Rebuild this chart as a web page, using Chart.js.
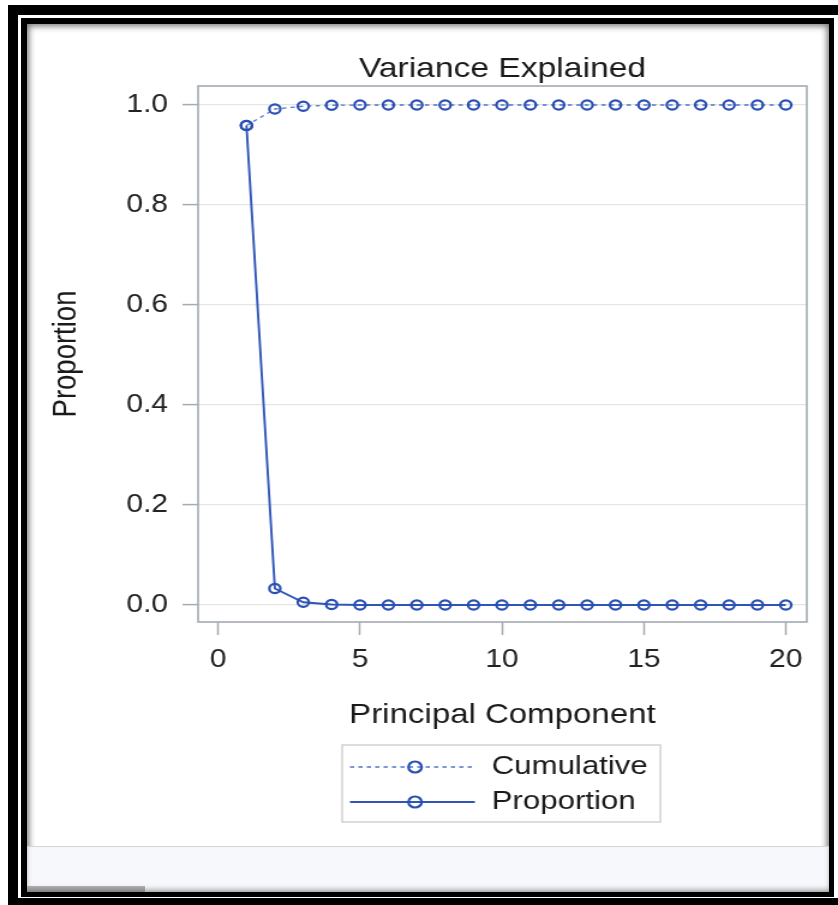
<!DOCTYPE html>
<html>
<head>
<meta charset="utf-8">
<title>Variance Explained</title>
<script src="https://cdn.jsdelivr.net/npm/chart.js@4.4.1/dist/chart.umd.min.js"></script>
<style>
  html, body { margin: 0; padding: 0; background: #fff; }
  body { position: relative; width: 838px; height: 905px; overflow: hidden; }
  .box { position: absolute; }
  #o1 { left: 8px; top: 5px; width: 840px; height: 900px; background: #000; }
  #o2 { left: 18px; top: 15px; width: 820px; height: 883px; background: #fff; }
  #o3 { left: 21px; top: 18px; width: 813px; height: 879px; background: #000; }
  #o4 { left: 27px; top: 24px; width: 802px; height: 868px; background: #fff;
        box-shadow: inset 0 0 6px 2px rgba(0,0,0,0.55); overflow: hidden; }
  #panel { position: absolute; left: 0; top: 822px; width: 802px; height: 46px;
           background: #f7f8fc; border-top: 1px solid #d6d6d6;
           box-shadow: inset 0 -4px 6px -2px rgba(0,0,0,0.5); }
  #thumb { position: absolute; left: 0; bottom: 0; width: 118px; height: 7px;
           background: linear-gradient(#b0b0b0, #7a7a7a); }
  /* chart is drawn narrower and stretched, like the screenshot */
  #wrap { position: absolute; left: 0; top: 0; width: 698px; height: 905px;
          transform: scaleX(1.2006); transform-origin: 0 0; }
</style>
</head>
<body>
<div class="box" id="o1"></div>
<div class="box" id="o2"></div>
<div class="box" id="o3"></div>
<div class="box" id="o4"><div id="panel"><div id="thumb"></div></div></div>
<div id="wrap"><canvas id="chart"></canvas></div>

<script>
// values
const components = [1, 2, 3, 4, 5, 6, 7, 8, 9, 10, 11, 12, 13, 14, 15, 16, 17, 18, 19, 20];
const proportion = [0.959, 0.033, 0.0055, 0.001, 0, 0, 0, 0, 0, 0, 0, 0, 0, 0, 0, 0, 0, 0, 0, 0];
const cumulative = [0.959, 0.992, 0.9975, 0.9995, 1, 1, 1, 1, 1, 1, 1, 1, 1, 1, 1, 1, 1, 1, 1, 1];
const xTicks = [0, 5, 10, 15, 20];
const yTicks = [0, 0.2, 0.4, 0.6, 0.8, 1.0];

const FONT = "'Liberation Sans', Arial, sans-serif";
const BLUE = '#2a4fb3';
const FRAME = '#a4abb3';

// gray box round the plot area
const frame = {
  id: 'frame',
  beforeDatasetsDraw(chart) {
    const { ctx, chartArea: a } = chart;
    ctx.save();
    ctx.strokeStyle = FRAME;
    ctx.lineWidth = 1.6;
    ctx.strokeRect(a.left, a.top, a.right - a.left, a.bottom - a.top);
    ctx.restore();
  }
};

// legend with line + marker samples, like the SAS one
const lineLegend = {
  id: 'lineLegend',
  afterDraw(chart) {
    const { ctx } = chart;
    const left = 285, right = 550, top = 745, bottom = 822;
    const rows = [767, 802];
    ctx.save();
    ctx.strokeStyle = '#d2d2d2';
    ctx.lineWidth = 1.5;
    ctx.strokeRect(left, top, right - left, bottom - top);
    chart.data.datasets.forEach((ds, i) => {
      const y = rows[i];
      ctx.strokeStyle = ds.borderColor;
      ctx.lineWidth = ds.borderWidth;
      ctx.setLineDash(ds.borderDash || []);
      ctx.beginPath();
      ctx.moveTo(291.5, y);
      ctx.lineTo(395.5, y);
      ctx.stroke();
      ctx.setLineDash([]);
      ctx.strokeStyle = ds.pointBorderColor;
      ctx.lineWidth = ds.pointBorderWidth;
      ctx.beginPath();
      ctx.arc(345.7, y, 5.5, 0, Math.PI * 2);
      ctx.stroke();
      ctx.fillStyle = '#1a1a1a';
      ctx.font = '26px ' + FONT;
      ctx.textBaseline = 'middle';
      ctx.textAlign = 'left';
      ctx.fillText(ds.label, 409.5, y);
    });
    ctx.restore();
  }
};

new Chart(document.getElementById('chart'), {
  type: 'line',
  data: {
    datasets: [{
      label: 'Cumulative',
      data: components.map((c, i) => ({ x: c, y: cumulative[i] })),
      borderColor: '#4f74cc',
      borderWidth: 1.3,
      borderDash: [3.5, 3.5],
      pointRadius: 4.6,
      pointBorderWidth: 2.2,
      pointBorderColor: BLUE,
      pointBackgroundColor: 'rgba(255,255,255,0)'
    }, {
      label: 'Proportion',
      data: components.map((c, i) => ({ x: c, y: proportion[i] })),
      borderColor: '#2f55b8',
      borderWidth: 1.9,
      pointRadius: 4.6,
      pointBorderWidth: 2.2,
      pointBorderColor: BLUE,
      pointBackgroundColor: 'rgba(255,255,255,0)'
    }]
  },
  options: {
    responsive: true,
    maintainAspectRatio: false,
    animation: false,
    layout: { padding: { left: 0, right: 26, top: 0, bottom: 163 } },
    plugins: {
      legend: { display: false },
      tooltip: { enabled: false },
      title: {
        display: true,
        text: 'Variance Explained',
        fullSize: false,
        color: '#1a1a1a',
        font: { family: FONT, size: 28, weight: 'normal' },
        padding: { top: 52.4, bottom: 0 }
      }
    },
    scales: {
      x: {
        type: 'linear',
        min: -0.704,
        max: 20.74,
        afterBuildTicks: (s) => { s.ticks = xTicks.map(v => ({ value: v })); },
        afterFit: (s) => { s.height = 120; },
        border: { display: false },
        grid: { drawOnChartArea: false, tickLength: 13, tickColor: FRAME, tickWidth: 1.5 },
        ticks: { color: '#222', padding: 10, font: { family: FONT, size: 25 } },
        title: {
          display: true,
          text: 'Principal Component',
          color: '#1a1a1a',
          font: { family: FONT, size: 27.5 },
          padding: { top: 0, bottom: 10.5 }
        }
      },
      y: {
        type: 'linear',
        min: -0.034,
        max: 1.038,
        afterBuildTicks: (s) => { s.ticks = yTicks.map(v => ({ value: v })); },
        afterFit: (s) => { s.width = 165; },
        border: { display: false },
        grid: { color: '#e5e5e5', lineWidth: 1.2, tickLength: 13, tickColor: FRAME, tickWidth: 1.5 },
        ticks: { color: '#222', padding: 12, font: { family: FONT, size: 25 },
                 callback: (v) => Number(v).toFixed(1) },
        title: {
          display: true,
          text: 'Proportion',
          color: '#1a1a1a',
          font: { family: FONT, size: 27.5 },
          padding: { top: 38.5, bottom: 0 }
        }
      }
    }
  },
  plugins: [frame, lineLegend]
});
</script>
</body>
</html>
